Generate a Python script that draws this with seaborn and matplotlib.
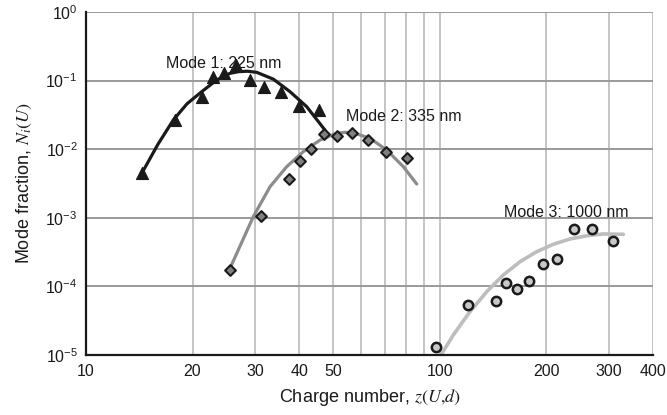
import matplotlib
matplotlib.use("Agg")
import matplotlib.pyplot as plt
import matplotlib.ticker as mticker
import seaborn as sns
import pandas as pd

# ---- data ----
m1_z = [14.4, 17.8, 21.3, 22.8, 24.5, 26.6, 29.0, 31.9, 35.5, 40.0, 45.5]
m1_n = [0.0045, 0.0267, 0.058, 0.112, 0.128, 0.169, 0.1035, 0.0815, 0.0675, 0.043, 0.037]
m1_fit_z = [14.46, 15.97, 17.65, 19.3, 21.23, 23.40, 25.52, 27.0, 28.6, 30.36, 33.83, 37.71, 42.03, 47.34]
m1_fit_n = [0.0047, 0.0118, 0.0267, 0.046, 0.0689, 0.102, 0.1277, 0.135, 0.137, 0.132, 0.105, 0.0689, 0.0417, 0.0190]

m2_z = [25.6, 31.2, 37.5, 40.3, 43.2, 47.1, 51.1, 56.3, 62.5, 70.5, 80.5]
m2_n = [1.73e-4, 1.06e-3, 3.68e-3, 6.8e-3, 0.0101, 0.0167, 0.0157, 0.017, 0.0136, 9.0e-3, 7.5e-3]
m2_fit_z = [25.69, 29.70, 33.11, 36.90, 41.11, 45.84, 51.09, 54.0, 56.92, 63.45, 70.72, 78.82, 85.99]
m2_fit_n = [1.98e-4, 1.04e-3, 2.84e-3, 5.56e-3, 9.2e-3, 0.0136, 0.0171, 0.0176, 0.0174, 0.0144, 9.74e-3, 5.56e-3, 3.11e-3]

m3_z = [97.5, 119.8, 143.9, 154.0, 165.5, 178.9, 195.9, 214.7, 239.3, 269.0, 307.7]
m3_n = [1.32e-5, 5.3e-5, 6.1e-5, 1.13e-4, 9.1e-5, 1.19e-4, 2.1e-4, 2.53e-4, 6.87e-4, 6.87e-4, 4.54e-4]
m3_fit_z = [100.7, 109.1, 121.6, 135.6, 151.1, 168.4, 187.7, 209.2, 233.1, 259.9, 289.6, 329.8]
m3_fit_n = [1.0e-5, 1.96e-5, 4.28e-5, 8.37e-5, 1.47e-4, 2.29e-4, 3.21e-4, 4.11e-4, 4.91e-4, 5.48e-4, 5.81e-4, 5.75e-4]

labels = ["Mode 1: 225 nm", "Mode 2: 335 nm", "Mode 3: 1000 nm"]
label_z = [16.8, 54.3, 151.7]
label_n = [0.18, 0.0295, 1.2e-3]

x_major = [10, 20, 30, 40, 50, 100, 200, 300, 400]
x_minor = [60, 70, 80, 90]
y_ticks = [1e-5, 1e-4, 1e-3, 1e-2, 1e-1, 1e0]

# ---- style ----
sns.set_style("white")
plt.rcParams["font.family"] = ["Liberation Sans", "DejaVu Sans"]
plt.rcParams["mathtext.fontset"] = "stix"

fig = plt.figure(figsize=(6.67, 4.15), dpi=100)
ax = fig.add_axes([86 / 667, 60 / 415, 567 / 667, 343 / 415])
ax.set_xscale("log")
ax.set_yscale("log")
ax.set_xlim(10, 400)
ax.set_ylim(1e-5, 1)

fits = [(m1_fit_z, m1_fit_n, "#1a1a1a", 2.3),
        (m2_fit_z, m2_fit_n, "#8c8c8c", 2.3),
        (m3_fit_z, m3_fit_n, "#bdbdbd", 2.6)]
for fz, fn, c, lw in fits:
    df = pd.DataFrame({"z": fz, "n": fn})
    sns.lineplot(data=df, x="z", y="n", ax=ax, color=c, lw=lw, sort=False,
                 estimator=None, zorder=3, legend=False)

pts = [(m1_z, m1_n, "^", "#1a1a1a", "#1a1a1a", 75, 0.8),
       (m2_z, m2_n, "D", "#808080", "#1a1a1a", 30, 1.5),
       (m3_z, m3_n, "o", "#c8c8c8", "#1a1a1a", 45, 1.8)]
for pz, pn, mk, fc, ec, s, lw in pts:
    df = pd.DataFrame({"z": pz, "n": pn})
    sns.scatterplot(data=df, x="z", y="n", ax=ax, marker=mk, color=fc,
                    edgecolor=ec, s=s, linewidth=lw, zorder=4, legend=False)

for t, lz, ln in zip(labels, label_z, label_n):
    ax.text(lz, ln, t, fontsize=11.5, ha="left", va="center", color="#1a1a1a", zorder=5)

ax.xaxis.set_major_locator(mticker.FixedLocator(x_major))
ax.xaxis.set_minor_locator(mticker.FixedLocator(x_minor))
ax.xaxis.set_major_formatter(mticker.FixedFormatter([str(v) for v in x_major]))
ax.xaxis.set_minor_formatter(mticker.NullFormatter())
ax.yaxis.set_major_locator(mticker.FixedLocator(y_ticks))
ax.yaxis.set_minor_locator(mticker.NullLocator())

ax.grid(True, which="major", axis="x", color="#c4c4c4", lw=1.4)
ax.grid(True, which="minor", axis="x", color="#c4c4c4", lw=1.4)
ax.grid(True, which="major", axis="y", color="#9a9a9a", lw=1.4)

for s in ["top", "right"]:
    ax.spines[s].set_visible(False)
for s in ["left", "bottom"]:
    ax.spines[s].set_color("#1a1a1a")
    ax.spines[s].set_linewidth(1.6)
    ax.spines[s].set_zorder(6)

ax.tick_params(axis="x", which="major", direction="inout", length=7, width=1.4,
               color="#1a1a1a", labelsize=11.5, pad=3, labelcolor="#1a1a1a")
ax.tick_params(axis="x", which="minor", direction="inout", length=5, width=1.2,
               color="#1a1a1a")
ax.tick_params(axis="y", which="major", direction="out", length=4, width=1.4,
               color="#1a1a1a", labelsize=11.5, pad=2, labelcolor="#1a1a1a")

ax.set_xlabel(r"Charge number, $z(U{,}d)$", fontsize=13, color="#1a1a1a", labelpad=6)
ax.set_ylabel(r"Mode fraction, $N_i(U)$", fontsize=13, color="#1a1a1a", labelpad=8)

fig.savefig("out.png", dpi=100)
